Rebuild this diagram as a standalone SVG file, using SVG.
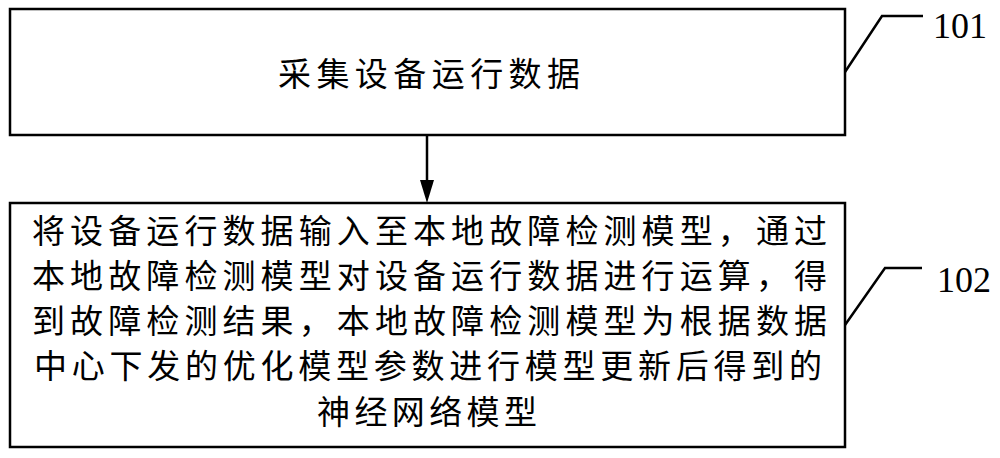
<svg xmlns="http://www.w3.org/2000/svg" width="1000" height="458" viewBox="0 0 1000 458">
<style>
.box{fill:#fff;stroke:#000;stroke-width:2.5}
.t{font-family:"Noto Sans CJK SC","Noto Sans",sans-serif;font-size:33px;fill:#000}
.n{font-family:"Liberation Serif",serif;font-size:36px;fill:#000}
.ln{fill:none;stroke:#000;stroke-width:2.5}
.ah{fill:#000}
</style>
<rect width="1000" height="458" fill="#fff"/>
<g id="connectors">
<line x1="427" y1="135" x2="427" y2="182" class="ln"/>
<polygon points="420,180 434,180 427,203" class="ah"/>
<polyline points="845,72 882,16 923,16" class="ln"/>
<polyline points="845,325 885,268 922,268" class="ln"/>
</g>
<g id="node101">
<rect x="10" y="9" width="835" height="126" class="box"/>
<text x="278" y="86" class="t" textLength="302" lengthAdjust="spacing">采集设备运行数据</text>
<text x="933" y="38" class="n">101</text>
</g>
<g id="node102">
<rect x="10" y="203" width="835" height="244" class="box"/>
<text x="32" y="243" class="t" textLength="795" lengthAdjust="spacing">将设备运行数据输入至本地故障检测模型，通过</text>
<text x="32" y="288" class="t" textLength="795" lengthAdjust="spacing">本地故障检测模型对设备运行数据进行运算，得</text>
<text x="32" y="333" class="t" textLength="795" lengthAdjust="spacing">到故障检测结果，本地故障检测模型为根据数据</text>
<text x="34" y="378" class="t" textLength="788" lengthAdjust="spacing">中心下发的优化模型参数进行模型更新后得到的</text>
<text x="317" y="424" class="t" textLength="220" lengthAdjust="spacing">神经网络模型</text>
<text x="937" y="292" class="n">102</text>
</g>
</svg>
